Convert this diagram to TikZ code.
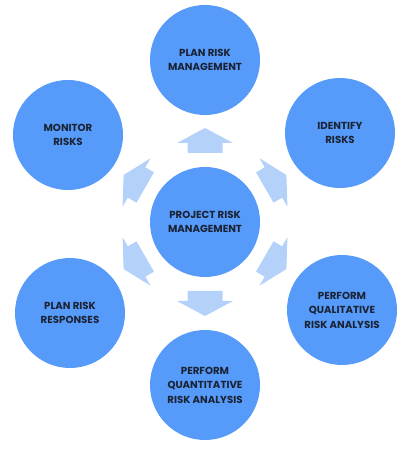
\documentclass[tikz,border=0pt]{standalone}
\usepackage{fontspec}
\setmainfont{Poppins}
\usetikzlibrary{positioning}
\definecolor{circleblue}{HTML}{569BF9}
\definecolor{arrowblue}{HTML}{B4D1F9}
\definecolor{labeltext}{HTML}{1B2233}

\begin{document}
\begin{tikzpicture}[x=1pt,y=1pt,
        phase/.style={circle,fill=circleblue,minimum size=110pt,inner sep=0pt,align=center,
            text=labeltext,font=\fontsize{10.2}{14.5}\selectfont\bfseries}]
        \useasboundingbox (0,0) rectangle (407,450);
        \node[phase] (hub) at (205,228) {PROJECT RISK\\MANAGEMENT};
        \node[phase] (plan) at (205,390) {PLAN RISK\\MANAGEMENT};
        \node[phase] (identify) at (340,317) {IDENTIFY\\RISKS};
        \node[phase] (qualitative) at (342,140) {PERFORM\\QUALITATIVE\\RISK ANALYSIS};
        \node[phase] (quantitative) at (205,65) {PERFORM\\QUANTITATIVE\\RISK ANALYSIS};
        \node[phase] (responses) at (70,137) {PLAN RISK\\RESPONSES};
        \node[phase] (monitor) at (68,315) {MONITOR\\RISKS};
        % block arrows pointing out of the hub
        \foreach \ang in {90,30,-30,-90,-150,150} {
            \fill[arrowblue,shift={(hub.center)},rotate=\ang-90]
                (-17.5,69) -- (17.5,69) -- (17.5,79) -- (28,79) -- (0,94) -- (-28,79) -- (-17.5,79) -- cycle;
        }
    \end{tikzpicture}
\end{document}
